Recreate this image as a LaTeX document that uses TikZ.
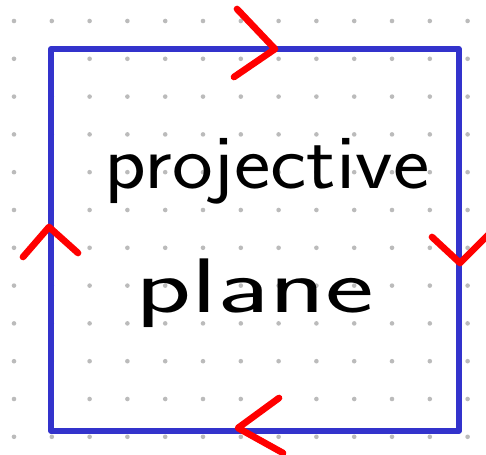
\documentclass[tikz,border=0pt]{standalone}
\usepackage{graphicx}
\usepackage{xcolor}
\usepackage{tikz}
\usetikzlibrary{calc, positioning}

\definecolor{edgeblue}{HTML}{3333CC}
\definecolor{gluered}{HTML}{FF0000}
\definecolor{dotgray}{HTML}{BBBBBB}

\begin{document}
\begin{tikzpicture}[
    x=0.02cm, y=-0.02cm,
    griddot/.style={fill=dotgray, draw=none},
    edge/.style={draw=edgeblue, line width=3.3pt, line join=round},
    glue/.style={draw=gluered, line width=3.8pt, line cap=round, line join=round},
    hand/.style={font=\sffamily\fontsize{44}{44}\selectfont, inner sep=0pt, anchor=base}
]
\clip (0,0) rectangle (486,455);
\fill[white] (0,0) rectangle (486,455);
% dotted paper
\foreach \i in {0,...,12}
  \foreach \j in {0,...,11}
    \fill[griddot] ({14+37.8*\i},{21+37.8*\j}) circle (2.3);
% corners of the square
\coordinate (nw) at (51,49);
\coordinate (ne) at (459,49);
\coordinate (se) at (459,431);
\coordinate (sw) at (51,431);
\draw[edge] (nw) -- (ne) -- (se) -- (sw) -- cycle;
% identification marks
\coordinate (ttip) at (275,49);
\coordinate (rtip) at (460,263);
\coordinate (btip) at (238,428);
\coordinate (ltip) at (49,227);
\draw[glue] (237,9) -- (ttip) -- (234,77);
\draw[glue] (432,237) -- (rtip) -- (492,231);
\draw[glue] (279,398) -- (btip) -- (283,453);
\draw[glue] (23,257) -- (ltip) -- (78,253);
% label
\node[hand] (word1) at (267,189) {\scalebox{1.12}[1]{projective}};
\node[hand] (word2) at (255,313) {\scalebox{1.5}[1]{plane}};
\end{tikzpicture}
\end{document}
